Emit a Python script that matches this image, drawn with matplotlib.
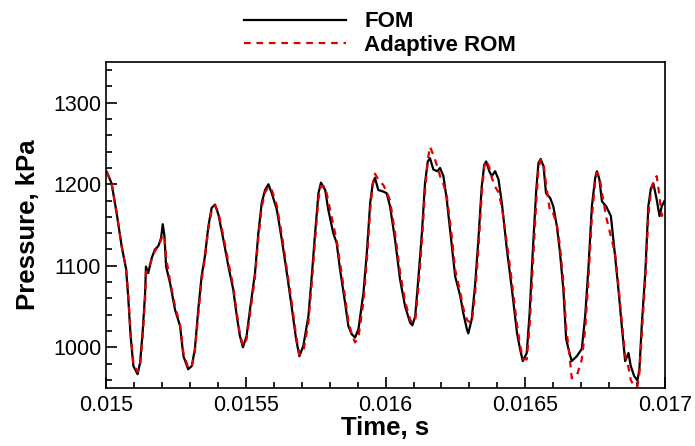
import matplotlib
matplotlib.use("Agg")
import matplotlib.pyplot as plt
from matplotlib.ticker import MultipleLocator

plt.rcParams['font.family'] = ['Liberation Sans', 'DejaVu Sans']

# time samples (s)
time = [
    0.015003, 0.015020, 0.015038, 0.015056, 0.015072, 0.015080, 0.015088, 0.015098,
    0.015113, 0.015122, 0.015131, 0.015140, 0.015143, 0.015151, 0.015164, 0.015175,
    0.015187, 0.015197, 0.015203, 0.015209, 0.015215, 0.015229, 0.015247, 0.015265,
    0.015277, 0.015294, 0.015307, 0.015318, 0.015330, 0.015342, 0.015354, 0.015366,
    0.015378, 0.015390, 0.015402, 0.015420, 0.015438, 0.015455, 0.015468, 0.015479,
    0.015490, 0.015503, 0.015515, 0.015533, 0.015545, 0.015557, 0.015569, 0.015581,
    0.015593, 0.015611, 0.015629, 0.015647, 0.015664, 0.015680, 0.015692, 0.015706,
    0.015724, 0.015736, 0.015748, 0.015760, 0.015769, 0.015784, 0.015795, 0.015813,
    0.015825, 0.015837, 0.015855, 0.015867, 0.015879, 0.015891, 0.015903, 0.015921,
    0.015933, 0.015945, 0.015954, 0.015962, 0.015974, 0.015992, 0.016004, 0.016016,
    0.016034, 0.016052, 0.016070, 0.016088, 0.016096, 0.016106, 0.016117, 0.016130,
    0.016141, 0.016151, 0.016159, 0.016171, 0.016185, 0.016195, 0.016207, 0.016219,
    0.016237, 0.016249, 0.016267, 0.016278, 0.016291, 0.016296, 0.016308, 0.016320,
    0.016332, 0.016344, 0.016353, 0.016360, 0.016371, 0.016380, 0.016392, 0.016404,
    0.016416, 0.016434, 0.016452, 0.016470, 0.016481, 0.016491, 0.016505, 0.016515,
    0.016527, 0.016539, 0.016547, 0.016555, 0.016565, 0.016574, 0.016589, 0.016600,
    0.016613, 0.016624, 0.016636, 0.016646, 0.016658, 0.016666, 0.016684, 0.016702,
    0.016714, 0.016726, 0.016738, 0.016750, 0.016756, 0.016765, 0.016774, 0.016789,
    0.016806, 0.016821, 0.016833, 0.016845, 0.016857, 0.016869, 0.016877, 0.016889,
    0.016901, 0.016908, 0.016917, 0.016929, 0.016940, 0.016949, 0.016958, 0.016970,
    0.016980, 0.016988, 0.016997,
]

# full order model pressure (kPa)
fom = [
    1215, 1201, 1165, 1124, 1096, 1059, 1014, 977,
    967, 981, 1018, 1067, 1099, 1091, 1110, 1120,
    1124, 1134, 1151, 1137, 1099, 1079, 1046, 1026,
    989, 973, 977, 998, 1046, 1087, 1112, 1148,
    1171, 1175, 1163, 1132, 1099, 1071, 1038, 1014,
    1000, 1014, 1046, 1091, 1140, 1177, 1193, 1200,
    1189, 1169, 1132, 1091, 1050, 1010, 989, 1002,
    1038, 1087, 1140, 1189, 1202, 1193, 1169, 1140,
    1128, 1096, 1055, 1026, 1016, 1012, 1022, 1067,
    1116, 1177, 1200, 1208, 1193, 1191, 1189, 1173,
    1132, 1083, 1050, 1030, 1027, 1038, 1083, 1140,
    1201, 1228, 1232, 1218, 1216, 1220, 1210, 1181,
    1124, 1087, 1063, 1042, 1022, 1017, 1034, 1075,
    1132, 1197, 1224, 1228, 1216, 1210, 1216, 1206,
    1177, 1120, 1071, 1018, 998, 983, 993, 1040,
    1120, 1193, 1226, 1231, 1222, 1189, 1183, 1173,
    1148, 1116, 1071, 1010, 993, 983, 989, 998,
    1038, 1099, 1173, 1208, 1216, 1206, 1179, 1173,
    1161, 1112, 1071, 1026, 983, 993, 977, 965,
    959, 973, 1030, 1091, 1173, 1195, 1201, 1181,
    1161, 1173, 1179,
]

# adaptive reduced order model pressure (kPa)
rom = [
    1215, 1201, 1165, 1124, 1096, 1062, 1018, 980,
    970, 978, 1012, 1060, 1092, 1096, 1108, 1118,
    1124, 1132, 1138, 1136, 1110, 1082, 1050, 1028,
    993, 975, 976, 995, 1040, 1082, 1110, 1145,
    1168, 1174, 1166, 1136, 1104, 1075, 1042, 1016,
    1002, 1010, 1040, 1086, 1134, 1172, 1190, 1197,
    1193, 1174, 1138, 1096, 1056, 1014, 991, 995,
    1030, 1078, 1132, 1182, 1198, 1197, 1180, 1150,
    1132, 1104, 1062, 1032, 1016, 1006, 1012, 1056,
    1106, 1168, 1200, 1213, 1206, 1199, 1191, 1180,
    1140, 1092, 1056, 1034, 1030, 1032, 1072, 1130,
    1190, 1230, 1246, 1236, 1222, 1210, 1200, 1186,
    1136, 1095, 1068, 1048, 1034, 1032, 1030, 1064,
    1120, 1188, 1222, 1229, 1221, 1208, 1197, 1190,
    1172, 1128, 1080, 1028, 1003, 986, 985, 1024,
    1100, 1178, 1220, 1230, 1226, 1200, 1165, 1164,
    1150, 1124, 1080, 1024, 990, 962, 965, 985,
    1022, 1085, 1160, 1204, 1214, 1210, 1190, 1160,
    1136, 1115, 1076, 1032, 990, 975, 960, 952,
    952, 968, 1020, 1082, 1162, 1190, 1204, 1210,
    1185, 1161, 1168,
]

fig = plt.figure(figsize=(6.95, 4.46), dpi=100)
ax = fig.add_axes([0.1525, 0.130, 0.8045, 0.731])

ax.plot(time, fom, color='black', lw=1.6, label='FOM')
ax.plot(time, rom, color='#e00000', lw=1.6, dashes=(3.0, 2.6), label='Adaptive ROM')

ax.set_xlim(0.015, 0.017)
ax.set_ylim(950, 1350)
ax.xaxis.set_minor_locator(MultipleLocator(0.0001))
ax.yaxis.set_major_locator(MultipleLocator(100))
ax.yaxis.set_minor_locator(MultipleLocator(20))
ax.set_xticks([0.015, 0.0155, 0.016, 0.0165, 0.017])
ax.set_xticklabels(['0.015', '0.0155', '0.016', '0.0165', '0.017'])

ax.tick_params(which='both', direction='in', top=False, right=False, labelsize=15.5, width=1.2)
ax.tick_params(which='major', length=8)
ax.tick_params(which='minor', length=4)
ax.tick_params(axis='x', pad=5)
for s in ax.spines.values():
    s.set_linewidth(1.2)

ax.set_xlabel('Time, s', fontsize=18.5, fontweight='bold', labelpad=0)
ax.set_ylabel('Pressure, kPa', fontsize=18.5, fontweight='bold', labelpad=9)

ax.legend(loc='lower center', bbox_to_anchor=(0.49, 0.972), frameon=False,
          prop={'size': 16, 'weight': 'bold'}, handlelength=4.6,
          handletextpad=0.8, labelspacing=0.1, borderpad=0.2)

fig.savefig('out.png', dpi=100)
